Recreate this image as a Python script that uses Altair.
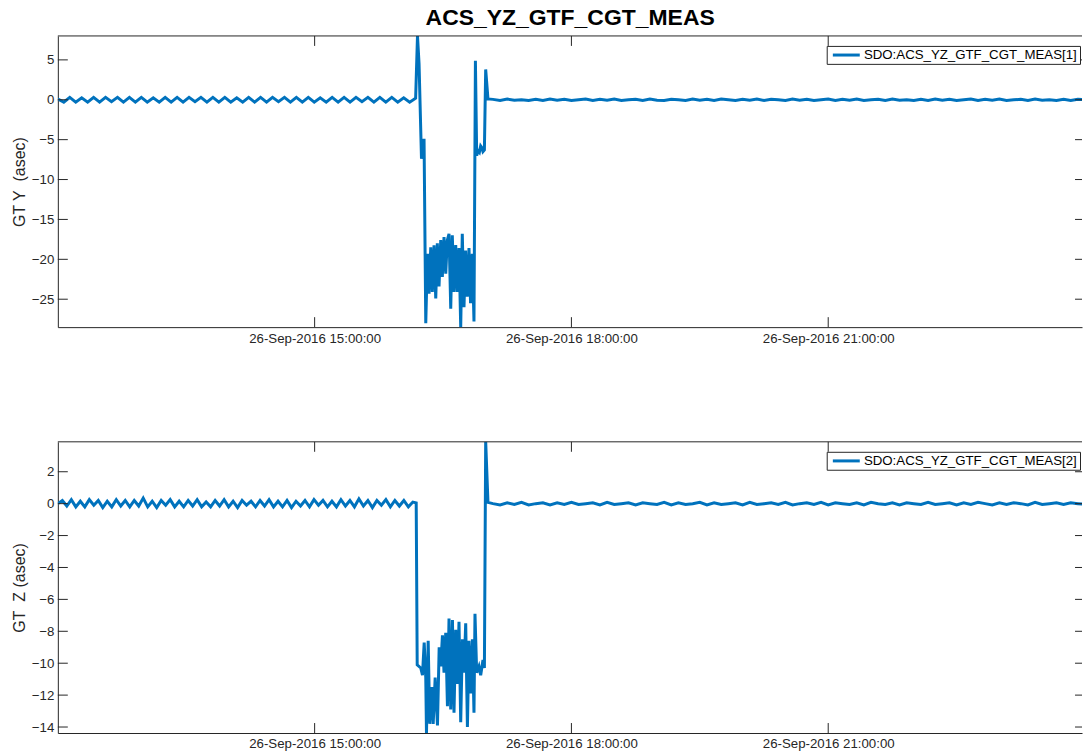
import altair as alt
import pandas as pd

BLUE = "#0072BD"
AX = "#262626"
FONT = "Liberation Sans"

W, H = 1027, 292

X_TICKS = [15, 18, 21]
Y1_TICKS = [-25, -20, -15, -10, -5, 0, 5]
Y2_TICKS = [-14, -12, -10, -8, -6, -4, -2, 0, 2]
X_DOMAIN = [12.0, 23.965]
Y1_DOMAIN = [-28.5, 8.0]
Y2_DOMAIN = [-14.375, 3.875]

TITLE = "ACS_YZ_GTF_CGT_MEAS"
Y1_TITLE = "GT Y\u00a0 (asec)"
Y2_TITLE = "GT\u00a0 Z (asec)"
S1 = "SDO:ACS_YZ_GTF_CGT_MEAS[1]"
S2 = "SDO:ACS_YZ_GTF_CGT_MEAS[2]"

# sampling (minutes after 12:00)
Y_PRE_STEP = 4.18
Z_PRE_STEP = 3.15
POST_START = 305.0
POST_STEP = 5.0

# --- GT Y ---
Y_PRE = [0.1, -0.3, 0.3, -0.3, 0.25, -0.3, 0.3, -0.3, 0.3, -0.25, 0.3, -0.3, 0.3, -0.3, 0.3, -0.3, 0.25, -0.3, 0.3, -0.3,
         0.3, -0.3, 0.3, -0.25, 0.3, -0.3, 0.3, -0.3, 0.3, -0.3, 0.25, -0.3, 0.3, -0.3, 0.3, -0.3, 0.3, -0.25, 0.3, -0.3,
         0.3, -0.3, 0.3, -0.3, 0.25, -0.3, 0.3, -0.3, 0.3, -0.3, 0.3, -0.25, 0.3, -0.3, 0.3, -0.3, 0.3, -0.3, 0.25, -0.3, 0.2]
Y_EVENT_T = [252.1, 253.2, 254.9, 255.8, 256.7, 257.9,
             259.1, 260.2, 261.4, 262.5, 263.7, 264.9, 266.0, 267.2, 268.4, 269.5, 270.7, 271.9, 273.0, 274.2,
             275.4, 276.5, 277.7, 278.9, 280.0, 281.2, 282.4, 283.5, 284.7, 285.8, 287.0, 288.2, 289.3, 290.5, 291.7,
             292.7, 293.6, 294.6, 295.5, 296.4, 297.2, 298.0, 299.0, 299.9, 301.5]
Y_EVENT_V = [8.0, 4.5, -7.4, -6.2, -4.9, -28.0,
             -19.3, -24.3, -18.5, -24.1, -18.25, -24.9, -18.0, -23.4, -17.6, -22.2, -17.2, -21.8, -17.6, -16.8,
             -26.2, -17.0, -24.1, -18.2, -24.1, -18.6, -28.5, -16.8, -26.0, -18.9, -24.7, -18.6, -25.5, -19.3, -27.8,
             4.9, -7.0, -6.4, -6.6, -5.8, -6.0, -6.5, -6.3, 3.8, 0.1]
Y_POST = [0.05, -0.08, 0.08, -0.05, 0.0, -0.08, 0.05, -0.08, 0.08, -0.05, 0.05, -0.08, 0.0, 0.08, -0.08, 0.05, -0.05, 0.08, -0.08, 0.0,
          0.05, -0.08, 0.08, -0.05, -0.08, 0.05, 0.0, -0.08, 0.08, -0.05, 0.05, -0.08, 0.08, 0.0, -0.08, 0.05, -0.05, 0.08, -0.08, 0.05,
          0.0, -0.08, 0.08, -0.05, 0.05, -0.08, 0.0, 0.08, -0.08, 0.05, -0.05, 0.08, -0.08, 0.0, 0.05, -0.08, 0.08, -0.05, 0.0, -0.08,
          0.05, -0.08, 0.08, -0.05, 0.05, -0.08, 0.0, 0.08, -0.08, 0.05, -0.05, 0.08, -0.08, 0.0, 0.05, -0.08, 0.08, -0.05, 0.0, -0.08,
          0.05, -0.08, 0.05, 0.0]

# --- GT Z ---
Z_PRE = [0.0, 0.2, -0.15, 0.25, -0.2, 0.15, -0.2, 0.25, -0.1, 0.2, -0.25, 0.15, -0.2, 0.25, -0.15, 0.2, -0.2, 0.2, -0.15, 0.35,
         -0.2, 0.15, -0.25, 0.2, -0.1, 0.25, -0.2, 0.15, -0.2, 0.2, -0.15, 0.25, -0.2, 0.1, -0.2, 0.2, -0.15, 0.25, -0.2, 0.15,
         -0.25, 0.2, -0.1, 0.15, -0.2, 0.2, -0.15, 0.25, -0.2, 0.15, -0.2, 0.2, -0.25, 0.15, -0.15, 0.2, -0.2, 0.25, -0.1, 0.2,
         -0.2, 0.15, -0.2, 0.25, -0.15, 0.2, -0.2, 0.3, -0.15, 0.2, -0.25, 0.2, -0.1, 0.25, -0.2, 0.2, -0.15, 0.2, -0.2, 0.1]
Z_EVENT_T = [251.2, 251.9, 254.4, 255.6, 256.8, 257.9, 258.4, 259.6, 260.7, 262.1, 263.1, 264.5, 266.1, 267.3, 268.4,
             269.6, 270.7, 271.9, 273.1, 274.2, 275.4, 276.6, 277.7, 278.9, 280.1, 281.2, 282.4, 283.6, 284.7, 285.9,
             287.1, 288.2, 289.4, 290.6, 291.7, 292.4, 293.6, 295.2, 296.4, 298.0, 299.0, 299.9, 301.5]
Z_EVENT_V = [0.05, -10.1, -10.3, -10.75, -8.7, -10.9, -14.4, -8.6, -13.8, -11.5, -13.8, -10.9, -13.9, -9.0, -10.2,
             -8.25, -10.6, -8.1, -12.7, -7.2, -12.9, -7.3, -13.1, -7.9, -11.3, -7.4, -13.7, -8.5, -10.6, -7.5,
             -14.0, -8.6, -11.9, -8.5, -13.1, -6.9, -10.6, -10.2, -10.75, -9.8, -10.3, 3.9, 0.08]
Z_POST = [0.0, -0.08, 0.05, -0.05, 0.08, -0.08, 0.0, 0.05, -0.08, 0.05, -0.05, 0.08, -0.05, 0.0, 0.05, -0.08, 0.08, -0.05, 0.0, 0.05,
          -0.08, 0.05, 0.0, -0.05, 0.08, -0.08, 0.05, -0.05, 0.0, 0.08, -0.08, 0.05, -0.05, 0.0, 0.05, -0.08, 0.08, -0.05, 0.0, 0.05,
          -0.05, 0.08, -0.08, 0.0, 0.05, -0.05, 0.08, -0.08, 0.05, 0.0, -0.05, 0.05, -0.08, 0.08, 0.0, -0.05, 0.05, -0.08, 0.05, 0.0,
          -0.05, 0.08, -0.05, 0.0, 0.05, -0.08, 0.05, -0.05, 0.08, 0.0, -0.08, 0.05, -0.05, 0.05, 0.0, -0.08, 0.08, -0.05, 0.0, 0.05,
          -0.05, 0.05, 0.0, -0.05]


def build(pre, pre_step, ev_t, ev_v, post, name):
    t = [i * pre_step for i in range(len(pre))] + list(ev_t) + [POST_START + i * POST_STEP for i in range(len(post))]
    v = list(pre) + list(ev_v) + list(post)
    return pd.DataFrame({"h": [12 + m / 60.0 for m in t], "v": v, "s": name})


df1 = build(Y_PRE, Y_PRE_STEP, Y_EVENT_T, Y_EVENT_V, Y_POST, S1)
df2 = build(Z_PRE, Z_PRE_STEP, Z_EVENT_T, Z_EVENT_V, Z_POST, S2)


def panel(df, ydom, yticks, ytitle):
    xs = alt.Scale(domain=X_DOMAIN, nice=False, zero=False)
    ys = alt.Scale(domain=ydom, nice=False, zero=False)
    xaxis = alt.Axis(values=X_TICKS, labelExpr="'26-Sep-2016 ' + datum.value + ':00:00'",
                     ticks=False, grid=False, title=None, labelFont=FONT, labelFontSize=13.3,
                     labelColor=AX, labelPadding=4, domainColor=AX, labelFlush=False)
    yaxis = alt.Axis(values=yticks, ticks=False, grid=False, title=ytitle, titleFont=FONT,
                     titleFontSize=16, titleFontWeight="normal", titleColor=AX, titleX=-38,
                     titleY=H / 2, titleBaseline="middle", titleAngle=270, labelFont=FONT,
                     labelFontSize=13.3, labelColor=AX, labelPadding=4, domainColor=AX)
    X = alt.X("h:Q", scale=xs, axis=xaxis)
    Y = alt.Y("v:Q", scale=ys, axis=yaxis)
    line = alt.Chart(df).mark_line(strokeWidth=3, clip=True).encode(
        x=X, y=Y,
        color=alt.Color("s:N", scale=alt.Scale(range=[BLUE]),
                        legend=alt.Legend(title=None, orient="none", legendX=771, legendY=10,
                                          symbolType="M-2.7,0H2.7", symbolSize=100,
                                          symbolStrokeWidth=3, symbolOffset=10.5, labelOffset=11,
                                          padding=2.5, labelFont=FONT, labelFontSize=13.3,
                                          labelColor="black", strokeColor=AX, fillColor="white",
                                          labelLimit=400)),
    )
    xt = pd.DataFrame({"h": X_TICKS})
    yt = pd.DataFrame({"v": yticks})
    one = pd.DataFrame({"k": [0]})
    xb = alt.Chart(xt).mark_rule(color=AX).encode(x=X, y=alt.value(H), y2=alt.value(H - 10))
    xtp = alt.Chart(xt).mark_rule(color=AX).encode(x=X, y=alt.value(0), y2=alt.value(10))
    yl = alt.Chart(yt).mark_rule(color=AX).encode(y=Y, x=alt.value(0), x2=alt.value(10))
    yr = alt.Chart(yt).mark_rule(color=AX).encode(y=Y, x=alt.value(W - 7), x2=alt.value(W))
    top = alt.Chart(one).mark_rule(color=AX).encode(x=alt.value(0), x2=alt.value(W), y=alt.value(0))
    return alt.layer(line, xb, xtp, yl, yr, top).properties(width=W, height=H)


p1 = panel(df1, Y1_DOMAIN, Y1_TICKS, Y1_TITLE)
p2 = panel(df2, Y2_DOMAIN, Y2_TICKS, Y2_TITLE)

chart = alt.vconcat(
    p1, p2, spacing=115, bounds="flush",
    title=alt.TitleParams(TITLE, font=FONT, fontSize=23, fontWeight="bold", color="black",
                          anchor="middle", baseline="alphabetic", offset=-13, dx=23),
).resolve_scale(x="independent", y="independent", color="independent").resolve_legend(
    color="independent"
).configure_view(stroke=None).properties(
    padding={"left": 12, "top": 6, "right": 0, "bottom": 0}
)

chart.save("out.html", embed_options={"renderer": "svg", "actions": False})
